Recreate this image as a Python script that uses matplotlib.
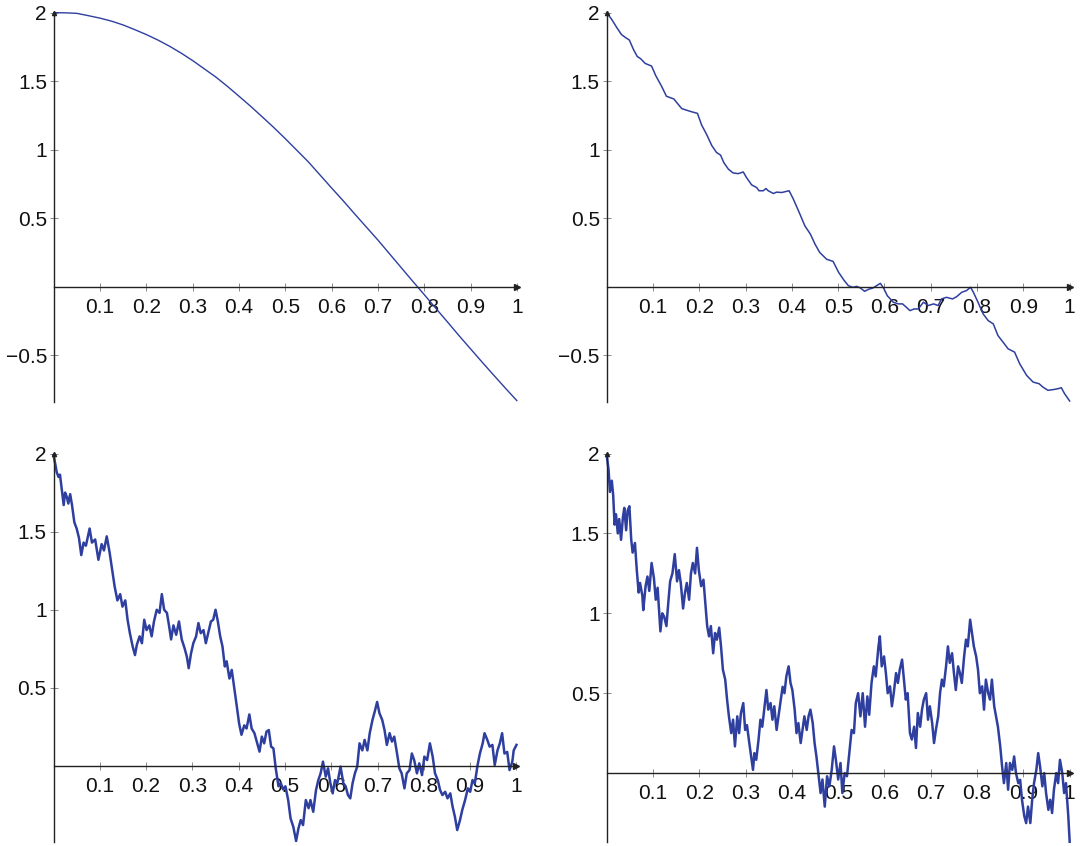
import matplotlib
matplotlib.use("Agg")
import matplotlib.pyplot as plt

plt.rcParams['font.family'] = ['Liberation Sans', 'DejaVu Sans']

# panel 1: smooth curve
x1 = [0, 0.025, 0.05, 0.075, 0.1, 0.125, 0.15, 0.175, 0.2, 0.225, 0.25,
      0.275, 0.3, 0.325, 0.35, 0.375, 0.4, 0.425, 0.45, 0.475, 0.5,
      0.525, 0.55, 0.575, 0.6, 0.625, 0.65, 0.675, 0.7, 0.725, 0.75,
      0.775, 0.8, 0.825, 0.85, 0.875, 0.9, 0.925, 0.95, 0.975, 1.0]
y1 = [2.0, 1.999, 1.995, 1.978, 1.96, 1.938, 1.91, 1.876, 1.84, 1.80, 1.755,
      1.705, 1.65, 1.59, 1.53, 1.462, 1.39, 1.317, 1.24, 1.162, 1.08,
      0.995, 0.91, 0.815, 0.72, 0.627, 0.53, 0.435, 0.34, 0.24, 0.14,
      0.04, -0.058, -0.158, -0.257, -0.357, -0.454, -0.551, -0.646, -0.74, -0.832]

# panel 2: slightly rough curve
x2 = [0, 0.011, 0.022, 0.032, 0.040, 0.049, 0.058, 0.066, 0.073, 0.083, 0.097,
      0.106, 0.119, 0.129, 0.145, 0.162, 0.171, 0.180, 0.196, 0.205, 0.216,
      0.227, 0.237, 0.246, 0.253, 0.263, 0.273, 0.284, 0.295, 0.302, 0.313,
      0.324, 0.329, 0.338, 0.344, 0.349, 0.360, 0.367, 0.378, 0.394, 0.403,
      0.416, 0.428, 0.440, 0.450, 0.460, 0.475, 0.489, 0.501, 0.512, 0.522,
      0.532, 0.540, 0.548, 0.557, 0.566, 0.575, 0.583, 0.591, 0.598, 0.606,
      0.619, 0.630, 0.639, 0.647, 0.655, 0.664, 0.673, 0.684, 0.695, 0.706,
      0.716, 0.723, 0.734, 0.747, 0.756, 0.767, 0.777, 0.786, 0.792, 0.802,
      0.813, 0.824, 0.835, 0.845, 0.856, 0.867, 0.881, 0.892, 0.907, 0.921,
      0.934, 0.942, 0.953, 0.964, 0.975, 0.982, 0.989, 1.0]
y2 = [2.0, 1.95, 1.89, 1.84, 1.82, 1.80, 1.73, 1.68, 1.665, 1.63, 1.61,
      1.54, 1.46, 1.39, 1.37, 1.30, 1.29, 1.28, 1.265, 1.18, 1.11,
      1.03, 0.98, 0.96, 0.905, 0.857, 0.83, 0.825, 0.837, 0.796, 0.743,
      0.723, 0.70, 0.70, 0.716, 0.70, 0.68, 0.69, 0.687, 0.70, 0.64,
      0.54, 0.444, 0.383, 0.31, 0.25, 0.20, 0.184, 0.104, 0.049, 0.007,
      -0.005, 0.002, -0.01, -0.034, -0.019, -0.01, 0.007, 0.024, -0.01, -0.066,
      -0.114, -0.126, -0.126, -0.15, -0.175, -0.163, -0.163, -0.114, -0.138, -0.126,
      -0.138, -0.09, -0.078, -0.09, -0.073, -0.041, -0.029, -0.005, -0.041, -0.114,
      -0.199, -0.248, -0.272, -0.357, -0.405, -0.454, -0.478, -0.563, -0.648, -0.697,
      -0.709, -0.733, -0.757, -0.752, -0.745, -0.738, -0.782, -0.835]

# panel 3: rough curve
x3 = [0, 0.004, 0.007, 0.011, 0.014, 0.018, 0.022, 0.025, 0.029, 0.032, 0.036,
      0.040, 0.045, 0.050, 0.055, 0.060, 0.065, 0.070, 0.078, 0.083, 0.090,
      0.097, 0.104, 0.109, 0.115, 0.121, 0.126, 0.132, 0.138, 0.144, 0.149,
      0.155, 0.160, 0.165, 0.171, 0.176, 0.180, 0.186, 0.191, 0.196, 0.201,
      0.207, 0.212, 0.217, 0.223, 0.229, 0.234, 0.239, 0.245, 0.250, 0.254,
      0.259, 0.265, 0.271, 0.277, 0.283, 0.288, 0.292, 0.297, 0.302, 0.308,
      0.313, 0.318, 0.324, 0.329, 0.334, 0.340, 0.345, 0.350, 0.355, 0.360,
      0.365, 0.370, 0.374, 0.380, 0.385, 0.390, 0.396, 0.401, 0.406, 0.412,
      0.417, 0.423, 0.428, 0.434, 0.439, 0.445, 0.450, 0.455, 0.460, 0.465,
      0.470, 0.475, 0.480, 0.486, 0.491, 0.496, 0.501, 0.507, 0.512, 0.518,
      0.524, 0.529, 0.534, 0.539, 0.545, 0.551, 0.555, 0.561, 0.567, 0.572,
      0.577, 0.582, 0.588, 0.593, 0.598, 0.603, 0.608, 0.613, 0.620, 0.626,
      0.631, 0.636, 0.641, 0.646, 0.651, 0.656, 0.661, 0.667, 0.672, 0.678,
      0.683, 0.689, 0.694, 0.699, 0.704, 0.710, 0.715, 0.720, 0.726, 0.731,
      0.736, 0.742, 0.747, 0.752, 0.758, 0.763, 0.769, 0.774, 0.779, 0.785,
      0.790, 0.796, 0.801, 0.807, 0.813, 0.819, 0.824, 0.830, 0.835, 0.840,
      0.846, 0.851, 0.857, 0.862, 0.867, 0.872, 0.878, 0.883, 0.889, 0.895,
      0.900, 0.905, 0.910, 0.916, 0.921, 0.927, 0.931, 0.937, 0.942, 0.948,
      0.953, 0.959, 0.964, 0.969, 0.974, 0.980, 0.985, 0.991, 0.994, 1.0]
y3 = [1.99, 1.93, 1.88, 1.85, 1.865, 1.77, 1.67, 1.75, 1.72, 1.68, 1.74,
      1.67, 1.56, 1.52, 1.46, 1.35, 1.43, 1.41, 1.52, 1.43, 1.45,
      1.32, 1.42, 1.38, 1.47, 1.37, 1.27, 1.15, 1.06, 1.10, 1.02,
      1.06, 0.936, 0.85, 0.765, 0.71, 0.776, 0.83, 0.786, 0.936, 0.87,
      0.90, 0.83, 0.925, 1.0, 0.98, 1.10, 1.0, 0.98, 0.89, 0.81,
      0.90, 0.84, 0.925, 0.81, 0.755, 0.70, 0.626, 0.72, 0.786, 0.83,
      0.915, 0.85, 0.87, 0.786, 0.85, 0.925, 0.936, 1.0, 0.925, 0.83,
      0.765, 0.637, 0.67, 0.56, 0.615, 0.51, 0.38, 0.27, 0.20, 0.26,
      0.24, 0.33, 0.24, 0.21, 0.156, 0.092, 0.188, 0.145, 0.22, 0.23,
      0.124, 0.113, -0.015, -0.13, -0.11, -0.15, -0.13, -0.22, -0.335, -0.39,
      -0.48, -0.40, -0.346, -0.378, -0.218, -0.27, -0.218, -0.293, -0.154, -0.09,
      -0.047, 0.028, -0.068, -0.015, -0.11, -0.175, -0.09, -0.11, -0.004, -0.11,
      -0.13, -0.186, -0.207, -0.11, -0.047, -0.004, 0.145, 0.10, 0.167, 0.10,
      0.21, 0.295, 0.35, 0.41, 0.338, 0.295, 0.23, 0.135, 0.21, 0.156,
      0.188, 0.08, -0.015, -0.047, -0.143, -0.047, -0.026, 0.08, 0.038, -0.047,
      0.017, -0.058, 0.06, 0.038, 0.145, 0.06, -0.047, -0.09, -0.154, -0.186,
      -0.165, -0.207, -0.175, -0.26, -0.325, -0.41, -0.346, -0.28, -0.218, -0.143,
      -0.165, -0.09, -0.11, 0.006, 0.08, 0.145, 0.21, 0.167, 0.124, 0.135,
      0.006, 0.10, 0.145, 0.21, 0.08, 0.09, -0.026, 0.028, 0.10, 0.135]

# panel 4: roughest curve
x4 = [0, 0.004, 0.007, 0.011, 0.014, 0.017, 0.020, 0.024, 0.027, 0.031, 0.035,
      0.038, 0.042, 0.045, 0.049, 0.053, 0.056, 0.061, 0.065, 0.069, 0.072,
      0.077, 0.079, 0.084, 0.088, 0.092, 0.097, 0.102, 0.106, 0.110, 0.116,
      0.120, 0.124, 0.129, 0.133, 0.137, 0.142, 0.147, 0.152, 0.156, 0.160,
      0.165, 0.169, 0.173, 0.178, 0.182, 0.186, 0.191, 0.195, 0.199, 0.204,
      0.209, 0.213, 0.217, 0.221, 0.225, 0.230, 0.234, 0.238, 0.243, 0.247,
      0.251, 0.256, 0.260, 0.264, 0.269, 0.273, 0.277, 0.282, 0.286, 0.290,
      0.295, 0.299, 0.303, 0.308, 0.312, 0.316, 0.319, 0.323, 0.328, 0.332,
      0.336, 0.341, 0.345, 0.349, 0.354, 0.358, 0.362, 0.367, 0.371, 0.375,
      0.380, 0.384, 0.388, 0.393, 0.397, 0.401, 0.406, 0.410, 0.414, 0.419,
      0.423, 0.427, 0.432, 0.436, 0.440, 0.445, 0.449, 0.453, 0.458, 0.462,
      0.466, 0.471, 0.476, 0.481, 0.486, 0.491, 0.495, 0.500, 0.505, 0.509,
      0.514, 0.519, 0.524, 0.529, 0.534, 0.538, 0.543, 0.548, 0.553, 0.558,
      0.563, 0.567, 0.572, 0.577, 0.581, 0.587, 0.590, 0.594, 0.599, 0.603,
      0.607, 0.612, 0.616, 0.620, 0.625, 0.629, 0.633, 0.638, 0.642, 0.646,
      0.650, 0.655, 0.659, 0.664, 0.668, 0.672, 0.677, 0.681, 0.685, 0.690,
      0.694, 0.698, 0.703, 0.707, 0.711, 0.716, 0.720, 0.724, 0.728, 0.733,
      0.737, 0.741, 0.746, 0.750, 0.754, 0.759, 0.763, 0.767, 0.772, 0.776,
      0.780, 0.785, 0.789, 0.793, 0.798, 0.802, 0.806, 0.811, 0.815, 0.819,
      0.824, 0.828, 0.832, 0.837, 0.841, 0.845, 0.850, 0.854, 0.858, 0.863,
      0.867, 0.871, 0.876, 0.880, 0.884, 0.889, 0.893, 0.897, 0.902, 0.906,
      0.910, 0.915, 0.919, 0.923, 0.928, 0.932, 0.936, 0.941, 0.945, 0.949,
      0.954, 0.958, 0.962, 0.966, 0.971, 0.975, 0.979, 0.984, 0.988, 0.992,
      0.997, 1.0]
y4 = [1.99, 1.90, 1.76, 1.83, 1.74, 1.555, 1.62, 1.50, 1.59, 1.46, 1.60,
      1.66, 1.52, 1.64, 1.67, 1.46, 1.38, 1.44, 1.27, 1.13, 1.19,
      1.11, 1.02, 1.17, 1.23, 1.14, 1.315, 1.22, 1.085, 1.16, 0.887,
      1.0, 0.98, 0.92, 1.065, 1.20, 1.25, 1.37, 1.20, 1.27, 1.19,
      1.03, 1.127, 1.19, 1.085, 1.25, 1.315, 1.25, 1.41, 1.27, 1.17,
      1.21, 1.065, 0.92, 0.856, 0.92, 0.75, 0.877, 0.835, 0.91, 0.79,
      0.647, 0.585, 0.46, 0.355, 0.25, 0.334, 0.167, 0.355, 0.25, 0.376,
      0.438, 0.27, 0.30, 0.188, 0.104, 0.02, 0.125, 0.083, 0.21, 0.334,
      0.29, 0.418, 0.52, 0.397, 0.438, 0.334, 0.418, 0.27, 0.355, 0.438,
      0.54, 0.50, 0.605, 0.668, 0.564, 0.52, 0.397, 0.25, 0.313, 0.188,
      0.27, 0.355, 0.27, 0.355, 0.397, 0.313, 0.188, 0.104, -0.02, -0.125,
      -0.04, -0.21, -0.02, -0.083, 0.02, 0.167, 0.083, -0.04, 0.063, -0.125,
      0.0, -0.02, 0.125, 0.27, 0.25, 0.438, 0.50, 0.355, 0.50, 0.29,
      0.48, 0.365, 0.564, 0.668, 0.605, 0.793, 0.856, 0.668, 0.73, 0.626,
      0.50, 0.543, 0.418, 0.50, 0.626, 0.564, 0.647, 0.71, 0.585, 0.46,
      0.50, 0.25, 0.21, 0.29, 0.157, 0.376, 0.29, 0.397, 0.46, 0.50,
      0.334, 0.418, 0.313, 0.188, 0.27, 0.355, 0.50, 0.585, 0.543, 0.668,
      0.793, 0.69, 0.75, 0.626, 0.52, 0.668, 0.626, 0.564, 0.73, 0.835,
      0.793, 0.96, 0.877, 0.793, 0.73, 0.647, 0.50, 0.543, 0.397, 0.585,
      0.50, 0.46, 0.585, 0.418, 0.355, 0.29, 0.167, 0.042, -0.063, 0.063,
      -0.104, 0.063, 0.02, 0.104, 0.0, -0.063, -0.042, -0.167, -0.27, -0.313,
      -0.21, -0.313, -0.167, -0.063, 0.02, 0.125, 0.042, -0.083, 0.0, -0.125,
      -0.23, -0.167, -0.25, -0.104, 0.0, -0.063, 0.083, 0.0, -0.125, -0.063,
      -0.27, -0.43]

xticks = [0.1, 0.2, 0.3, 0.4, 0.5, 0.6, 0.7, 0.8, 0.9, 1.0]
xticklabels = ['0.1', '0.2', '0.3', '0.4', '0.5', '0.6', '0.7', '0.8', '0.9', '1']

panels = [
    (x1, y1, -0.84, [-0.5, 0.5, 1, 1.5, 2], ['\u22120.5', '0.5', '1', '1.5', '2'], 1.0),
    (x2, y2, -0.84, [-0.5, 0.5, 1, 1.5, 2], ['\u22120.5', '0.5', '1', '1.5', '2'], 1.1),
    (x3, y3, -0.485, [0.5, 1, 1.5, 2], ['0.5', '1', '1.5', '2'], 1.8),
    (x4, y4, -0.43, [0.5, 1, 1.5, 2], ['0.5', '1', '1.5', '2'], 1.8),
]

# axes rectangles in figure fractions [left, bottom, width, height]
rects = [
    [0.0497, 0.5252, 0.4275, 0.4598],
    [0.5602, 0.5252, 0.4275, 0.4598],
    [0.0494, 0.0050, 0.4275, 0.4589],
    [0.5602, 0.0050, 0.4275, 0.4589],
]

line_color = '#2e3f9f'

fig = plt.figure(figsize=(10.83, 8.46), dpi=100)

for (xs, ys, ymin, yt, ytl, lw), rect in zip(panels, rects):
    ax = fig.add_axes(rect)
    ax.plot(xs, ys, color=line_color, lw=lw, clip_on=False)
    ax.set_xlim(0, 1)
    ax.set_ylim(ymin, 2)

    ax.spines['top'].set_visible(False)
    ax.spines['right'].set_visible(False)
    ax.spines['bottom'].set_position(('data', 0))
    ax.spines['left'].set_position(('data', 0))
    for s in ('bottom', 'left'):
        ax.spines[s].set_linewidth(1.0)
        ax.spines[s].set_color('#222222')

    ax.set_xticks(xticks)
    ax.set_xticklabels(xticklabels)
    ax.set_yticks(yt)
    ax.set_yticklabels(ytl)
    ax.tick_params(axis='both', direction='inout', length=6, width=0.6,
                   color='#777777', labelsize=15, labelcolor='#111111')
    ax.tick_params(axis='x', pad=5)
    ax.tick_params(axis='y', pad=2)

    # arrow heads at axis ends
    ax.plot(1, 0, marker='>', color='#222222', ms=4, clip_on=False,
            transform=ax.get_yaxis_transform())
    ax.plot(0, 2, marker='^', color='#222222', ms=3, clip_on=False)
    ax.patch.set_visible(False)

fig.savefig('out.png', dpi=100)
